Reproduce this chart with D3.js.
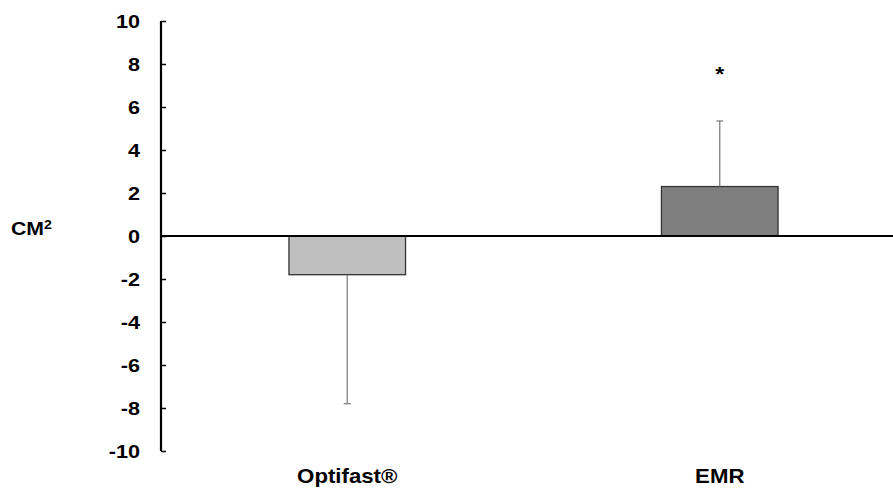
<!DOCTYPE html>
<html><head><meta charset="utf-8">
<script src="https://cdn.jsdelivr.net/npm/d3@7"></script>
<style>body{margin:0;background:#fff}svg{display:block}text{font-family:"Liberation Sans",Arial,sans-serif;font-weight:bold;fill:#000}</style>
</head><body>
<svg id="c" width="893" height="489"></svg>
<script>
const categories = ["Optifast®", "EMR"];
const values = [-1.8, 2.3];
const errors = [6.0, 3.05];
const colors = ["#bfbfbf", "#7f7f7f"];
const yTicks = [-10, -8, -6, -4, -2, 0, 2, 4, 6, 8, 10];
const significance = ["", "*"];
const yLabelBase = "CM";
const yLabelSup = "2";

const svg = d3.select("#c");
const y = d3.scaleLinear().domain([-10, 10]).range([451, 21]);
const x = d3.scaleBand().domain(categories).range([161, 906]).paddingInner(0.687).paddingOuter(0.3435);

function stretched(sel, px, py, size, sx, anchor, txt) {
  return sel.append("text")
    .attr("transform", `translate(${px},${py}) scale(${sx},1)`)
    .attr("text-anchor", anchor).attr("font-size", size).text(txt);
}

// y axis
const yAxis = d3.axisLeft(y).tickValues(yTicks).tickSize(0).tickPadding(0).tickFormat(d => String(d));
const gy = svg.append("g").attr("transform", "translate(161,0)");
gy.call(yAxis);
gy.select(".domain").remove();
gy.selectAll(".tick text").attr("x", -21 / 1.17).attr("transform", "scale(1.17,1)").attr("dy", "0.36em")
  .attr("font-size", 18.5).attr("font-family", "Liberation Sans, Arial, sans-serif").attr("font-weight", "bold").attr("fill", "#000");
gy.selectAll(".tick").append("line").attr("x1", 0).attr("x2", 5).attr("stroke", "#000").attr("stroke-width", 1.5);
gy.append("line").attr("y1", y(10)).attr("y2", y(-10)).attr("stroke", "#000").attr("stroke-width", 2.2);

// bars
svg.selectAll("rect.bar").data(categories).enter().append("rect")
  .attr("x", d => x(d)).attr("width", x.bandwidth())
  .attr("y", (d, i) => y(Math.max(0, values[i])))
  .attr("height", (d, i) => Math.abs(y(values[i]) - y(0)))
  .attr("fill", (d, i) => colors[i]).attr("stroke", "#333").attr("stroke-width", 1.3);

// error bars
categories.forEach((c, i) => {
  const cx = x(c) + x.bandwidth() / 2;
  const end = values[i] + Math.sign(values[i]) * errors[i];
  svg.append("line").attr("x1", cx).attr("x2", cx).attr("y1", y(values[i])).attr("y2", y(end))
    .attr("stroke", "#808080").attr("stroke-width", 1.3);
  svg.append("line").attr("x1", cx - 3.5).attr("x2", cx + 3.5).attr("y1", y(end)).attr("y2", y(end))
    .attr("stroke", "#808080").attr("stroke-width", 1.3);
  if (significance[i]) {
    stretched(svg, cx, y(end + 2.4) + 12, 21, 1.1, "middle", significance[i]);
  }
});

// zero line
svg.append("line").attr("x1", 161).attr("x2", 893).attr("y1", y(0)).attr("y2", y(0)).attr("stroke", "#000").attr("stroke-width", 2);

// category labels
categories.forEach(c => stretched(svg, x(c) + x.bandwidth() / 2, 483, 19.5, 1.14, "middle", c));

// y label
const yl = stretched(svg, 11, 235, 18, 1.18, "start", yLabelBase);
yl.append("tspan").attr("font-size", 12).attr("dy", -6).text(yLabelSup);
</script>
</body></html>
